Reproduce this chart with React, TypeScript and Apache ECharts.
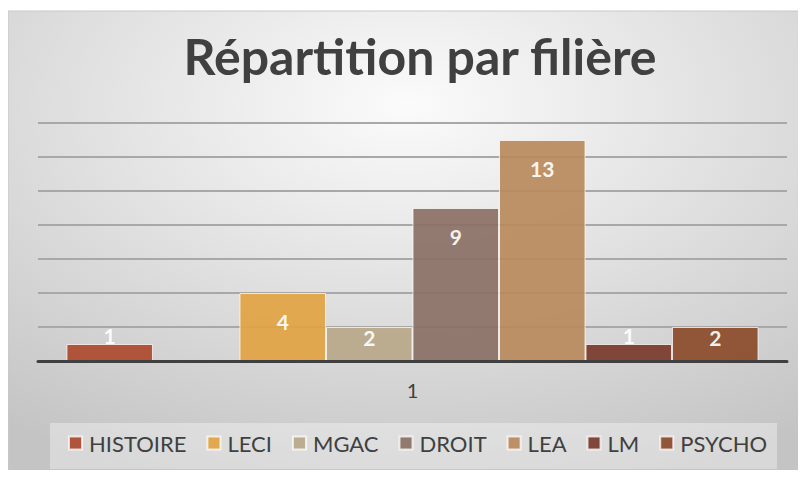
import React, { useEffect, useRef } from "react";
import * as echarts from "echarts";

const categories = ["1"];
const seriesNames = ["HISTOIRE", "", "LECI", "MGAC", "DROIT", "LEA", "LM", "PSYCHO"];
const seriesValues: (number | null)[] = [1, null, 4, 2, 9, 13, 1, 2];
const seriesColors = ["#AD4A2E", "#999999", "#E2A343", "#B8A88A", "#8B7065", "#B88A5D", "#77392B", "#8B4B2A"];
const legendNames = ["HISTOIRE", "LECI", "MGAC", "DROIT", "LEA", "LM", "PSYCHO"];
const titleText = "Répartition par filière";

const FONT = "Lato, 'DejaVu Sans', sans-serif";

function labelFor(v: number | null) {
  if (v == null) return { show: false };
  if (v <= 1) return { position: "top", distance: -2 };
  if (v <= 2) return { position: "insideTop", distance: 0 };
  return { position: "insideTop", distance: 18 };
}

export default function App() {
  const ref = useRef<HTMLDivElement>(null);
  useEffect(() => {
    if (!ref.current) return;
    const chart = echarts.init(ref.current, undefined, { renderer: "svg" });
    const series = seriesNames.map((name, i) => ({
      type: "bar",
      name: name || "blank",
      data: [
        {
          value: seriesValues[i],
          label: labelFor(seriesValues[i]),
        },
      ],
      barGap: "0%",
      barCategoryGap: "7.6%",
      itemStyle: { color: seriesColors[i], opacity: 0.92, borderColor: "rgba(255,255,255,0.8)", borderWidth: 1 },
      label: {
        show: true,
        color: "#ffffff",
        fontFamily: FONT,
        fontWeight: "bold",
        fontSize: 21,
      },
      silent: true,
    }));
    chart.setOption({
      animation: false,
      graphic: [
        {
          type: "rect",
          shape: { x: 8, y: 11, width: 798, height: 467 },
          style: {
            fill: {
              type: "radial",
              x: 0.5,
              y: 0.2,
              r: 0.85,
              colorStops: [
                { offset: 0, color: "#fbfbfb" },
                { offset: 1, color: "#c4c4c4" },
              ],
            },
            stroke: "#c8c8c8",
            lineWidth: 1,
          },
          z: -10,
          silent: true,
        },
        {
          type: "rect",
          shape: { x: 50, y: 423, width: 727, height: 46 },
          style: { fill: "rgba(255,255,255,0.35)" },
          z: -5,
          silent: true,
        },
      ],
      title: {
        text: titleText,
        left: 415,
        textAlign: "center",
        top: 26,
        textStyle: { fontFamily: FONT, fontWeight: "bold", fontSize: 50, color: "#404040" },
      },
      legend: {
        data: legendNames,
        top: 427,
        left: 63,
        width: 730,
        padding: 5,
        itemWidth: 13,
        itemHeight: 13,
        itemGap: 20,
        icon: "rect",
        textStyle: { fontFamily: FONT, fontSize: 22, color: "#404040", padding: [0, 0, 0, 2] },
        selectedMode: false,
      },
      grid: { left: 38, right: 19, top: 123, bottom: 117 },
      xAxis: {
        type: "category",
        data: categories,
        axisLine: { show: true, lineStyle: { color: "#404040", width: 3 } },
        axisTick: { show: false },
        axisLabel: { fontFamily: FONT, fontSize: 20, color: "#404040", margin: 19 },
        z: 10,
      },
      yAxis: {
        type: "value",
        min: 0,
        max: 14,
        interval: 2,
        axisLabel: { show: false },
        axisLine: { show: false },
        axisTick: { show: false },
        splitLine: { lineStyle: { color: "#a8a8a8", width: 2 } },
      },
      series,
    });
    return () => chart.dispose();
  }, []);
  return <div ref={ref} style={{ width: 806, height: 478, margin: -8 }} />;
}
